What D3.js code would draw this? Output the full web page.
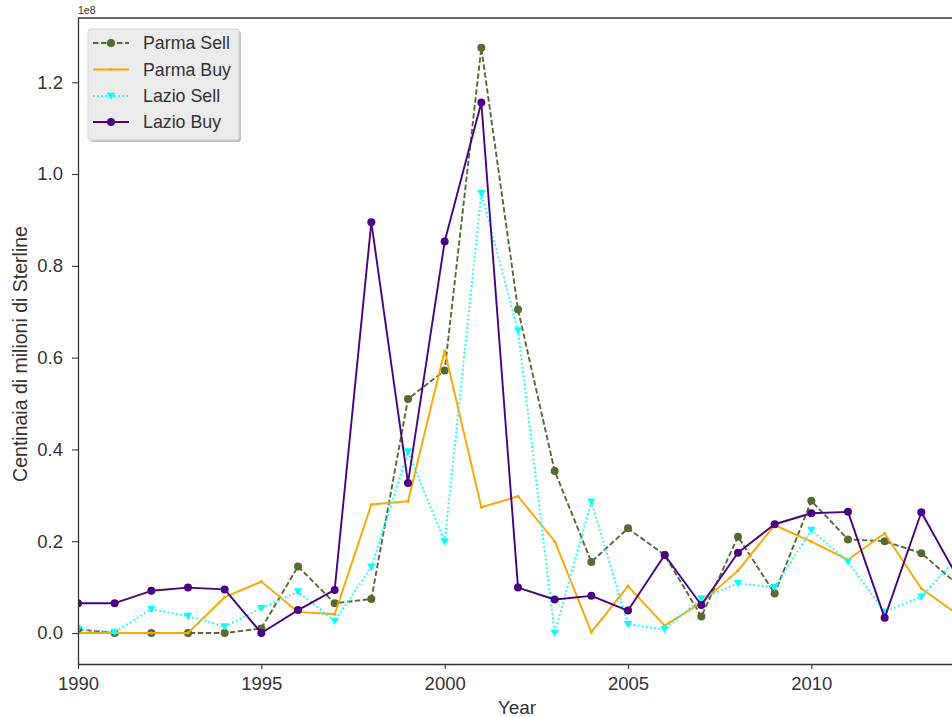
<!DOCTYPE html>
<html><head><meta charset="utf-8">
<script src="https://cdn.jsdelivr.net/npm/d3@7"></script>
<style>
body{margin:0;background:#fff;}
svg{display:block;font-family:"Liberation Sans",Arial,sans-serif;}
</style></head>
<body>
<svg id="chart" width="952" height="717"></svg>
<script>
// Values are in units of 1e8 (as shown on the y axis)
const years = [1990,1991,1992,1993,1994,1995,1996,1997,1998,1999,2000,2001,2002,2003,2004,2005,2006,2007,2008,2009,2010,2011,2012,2013,2014];
const parmaSell = [0.008,0.0,0.0,0.0,0.0,0.01,0.145,0.065,0.074,0.51,0.572,1.275,0.705,0.353,0.155,0.228,0.17,0.036,0.21,0.086,0.288,0.204,0.2,0.174,0.105];
const parmaBuy  = [0.0,0.0,0.0,0.0,0.078,0.112,0.046,0.041,0.28,0.287,0.615,0.274,0.298,0.2,0.002,0.102,0.016,0.066,0.136,0.235,0.199,0.16,0.217,0.097,0.04];
const lazioSell = [0.008,0.002,0.052,0.037,0.014,0.054,0.09,0.026,0.144,0.395,0.199,0.958,0.659,0.0,0.286,0.019,0.008,0.075,0.108,0.1,0.224,0.155,0.046,0.079,0.166];
const lazioBuy  = [0.065,0.065,0.092,0.099,0.095,0.0,0.05,0.094,0.895,0.327,0.853,1.156,0.099,0.073,0.081,0.049,0.17,0.061,0.175,0.237,0.261,0.264,0.033,0.263,0.12];
const seriesNames = ["Parma Sell","Parma Buy","Lazio Sell","Lazio Buy"];
const xTicks = [1990,1995,2000,2005,2010];
const yTicks = [0.0,0.2,0.4,0.6,0.8,1.0,1.2];

const series = [
  {name:seriesNames[0], values:parmaSell, color:"#556B2F", dash:"5.5,2.5", marker:"circle", r:4},
  {name:seriesNames[1], values:parmaBuy,  color:"#FFA500", dash:null, marker:"point", r:1.6},
  {name:seriesNames[2], values:lazioSell, color:"#00FFFF", dash:"1.6,2.6", marker:"tri", r:4.2},
  {name:seriesNames[3], values:lazioBuy,  color:"#4B0082", dash:null, marker:"circle", r:4}
];

const svg = d3.select("#chart");
const L=78, R=958, T=18, B=664;
const x = d3.scaleLinear().domain([1990,2014]).range([L,R]);
const y = d3.scaleLinear().domain([-0.0675,1.34]).range([B,T]);
const axisColor="#333";

svg.append("defs").append("clipPath").attr("id","clip")
  .append("rect").attr("x",L).attr("y",T).attr("width",R-L).attr("height",B-T);

// lines
const plot = svg.append("g").attr("clip-path","url(#clip)");
series.forEach(s=>{
  const pts = years.map((yr,i)=>[yr,s.values[i]]);
  const line = d3.line().x(d=>x(d[0])).y(d=>y(d[1]));
  plot.append("path").attr("d",line(pts)).attr("fill","none")
    .attr("stroke",s.color).attr("stroke-width",s.marker==="tri"?2:1.9)
    .attr("stroke-dasharray",s.dash).attr("stroke-linejoin","round");
  drawMarkers(plot, s, pts.map(d=>[x(d[0]),y(d[1])]));
});

function drawMarkers(g, s, coords){
  coords.forEach(([cx,cy])=>{
    if(s.marker==="circle" || s.marker==="point"){
      g.append("circle").attr("cx",cx).attr("cy",cy).attr("r",s.r).attr("fill",s.color);
    } else {
      const r=s.r;
      g.append("path").attr("d",`M${cx-r},${cy-r*0.8}L${cx+r},${cy-r*0.8}L${cx},${cy+r*0.95}Z`).attr("fill",s.color);
    }
  });
}

// axes
const xAxis = svg.append("g").attr("transform",`translate(0,${B})`)
  .call(d3.axisBottom(x).tickValues(xTicks).tickFormat(d3.format("d")).tickSize(5).tickPadding(8).tickSizeOuter(0));
const yAxis = svg.append("g").attr("transform",`translate(${L},0)`)
  .call(d3.axisLeft(y).tickValues(yTicks).tickFormat(d3.format(".1f")).tickSize(6).tickPadding(9).tickSizeOuter(0));
[xAxis,yAxis].forEach(a=>{
  a.select(".domain").attr("stroke",axisColor).attr("stroke-width",1.3);
  a.selectAll(".tick line").attr("stroke",axisColor).attr("stroke-width",1.1);
  a.selectAll(".tick text").attr("fill",axisColor).style("font-size","18.5px").style("font-family","Liberation Sans, Arial, sans-serif");
});
xAxis.select(".domain").attr("d",`M${L},0.5H${R}`);
yAxis.select(".domain").attr("d",`M0.5,${B}V${T}`);
// top spine
svg.append("line").attr("x1",L).attr("x2",R).attr("y1",T).attr("y2",T).attr("stroke",axisColor).attr("stroke-width",1.3);

// offset text
svg.append("text").attr("x",L).attr("y",14).attr("fill",axisColor).style("font-size","10.5px").text("1e8");

// axis labels
svg.append("text").attr("x",(L+956)/2).attr("y",714).attr("text-anchor","middle")
  .attr("fill",axisColor).style("font-size","19px").text("Year");
svg.append("text").attr("transform",`translate(27,${(T+B)/2+13}) rotate(-90)`).attr("text-anchor","middle")
  .attr("fill",axisColor).style("font-size","19.5px").text("Centinaia di milioni di Sterline");

// legend
const lg = svg.append("g");
lg.append("rect").attr("x",90).attr("y",31).attr("width",151).attr("height",111).attr("rx",3)
  .attr("fill","#9a9a9a").attr("opacity",0.6);
lg.append("rect").attr("x",88).attr("y",29).attr("width",151).attr("height",111).attr("rx",3)
  .attr("fill","#ebebeb").attr("stroke","#d6d6d6").attr("stroke-width",1);
const rowY=[43,69.5,96,122];
series.forEach((s,i)=>{
  const ry=rowY[i];
  lg.append("line").attr("x1",93).attr("x2",129).attr("y1",ry).attr("y2",ry)
    .attr("stroke",s.color).attr("stroke-width",s.marker==="tri"?2:1.9).attr("stroke-dasharray",s.dash);
  drawMarkers(lg, s, [[111,ry]]);
  lg.append("text").attr("x",143).attr("y",ry+6.3).attr("fill","#333").style("font-size","17.8px").text(s.name);
});
</script>
</body></html>
